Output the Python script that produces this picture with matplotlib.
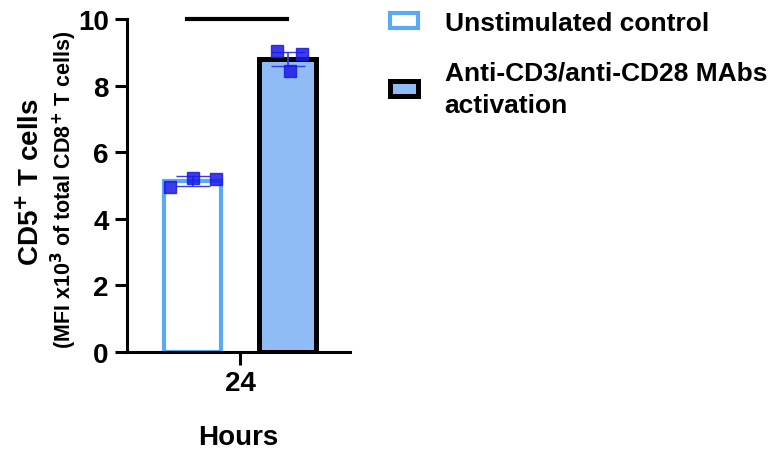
import matplotlib.pyplot as plt
import numpy as np

plt.rcParams['font.family'] = ['Liberation Sans', 'DejaVu Sans']
plt.rcParams['font.weight'] = 'bold'
plt.rcParams['mathtext.default'] = 'bf'

# data
groups = ['Unstimulated control', 'Anti-CD3/anti-CD28 MAbs\nactivation']
means = [5.12, 8.8]
sems = [0.15, 0.2]
points_ctrl = [4.95, 5.22, 5.2]
points_act = [9.04, 8.44, 8.95]
xtick_labels = ['24']

fill_colors = ['white', '#8fbcf5']
edge_colors = ['#5aa9f5', 'black']
edge_widths = [3.0, 3.6]

fig = plt.figure(figsize=(7.83, 4.52), dpi=100)
ax = fig.add_axes([0.162, 0.219, 0.285, 0.737])

xpos = [0, 1]
for i in range(2):
    ax.bar(xpos[i], means[i], width=0.6, color=fill_colors[i],
           edgecolor=edge_colors[i], linewidth=edge_widths[i], label=groups[i], zorder=2)
    ax.errorbar(xpos[i], means[i], yerr=sems[i], color='#3a3ae0', capsize=12,
                linewidth=1.2, zorder=4)

ax.plot(np.array([-0.24, 0, 0.24]) + xpos[0], points_ctrl, 's', color='#1a1ae6',
        alpha=0.85, markersize=9, zorder=5, clip_on=False)
ax.plot(np.array([-0.12, 0.02, 0.15]) + xpos[1], points_act, 's', color='#1a1ae6',
        alpha=0.85, markersize=9, zorder=5, clip_on=False)

# significance bar
ax.plot([-0.06, 0.99], [10.0, 10.0], color='black', linewidth=3, clip_on=False)

ax.set_xlim(-0.695, 1.653)
ax.set_ylim(0, 10)
ax.set_yticks([0, 2, 4, 6, 8, 10])
ax.set_xticks([0.5])
ax.set_xticklabels(xtick_labels)
ax.tick_params(axis='both', labelsize=20, width=2.2, length=9, pad=4)
ax.spines['right'].set_visible(False)
ax.spines['top'].set_visible(False)
ax.spines['left'].set_linewidth(2.2)
ax.spines['bottom'].set_linewidth(2.2)
ax.set_xlabel('Hours', fontsize=20, fontweight='bold', labelpad=20)

fig.text(0.040, 0.597, r'CD5$^{+}$ T cells', rotation=90, fontsize=20,
         ha='center', va='center')
fig.text(0.082, 0.58, r'(MFI x10$^{3}$ of total CD8$^{+}$ T cells)', rotation=90,
         fontsize=15.5, ha='center', va='center')

leg = ax.legend(loc='upper left', bbox_to_anchor=(1.075, 1.095), frameon=False,
                fontsize=19, handlelength=1.05, handleheight=0.5, handletextpad=1.0,
                labelspacing=0.95)
for t in leg.get_texts():
    t.set_linespacing(1.45)

plt.savefig('out.png', dpi=100)
